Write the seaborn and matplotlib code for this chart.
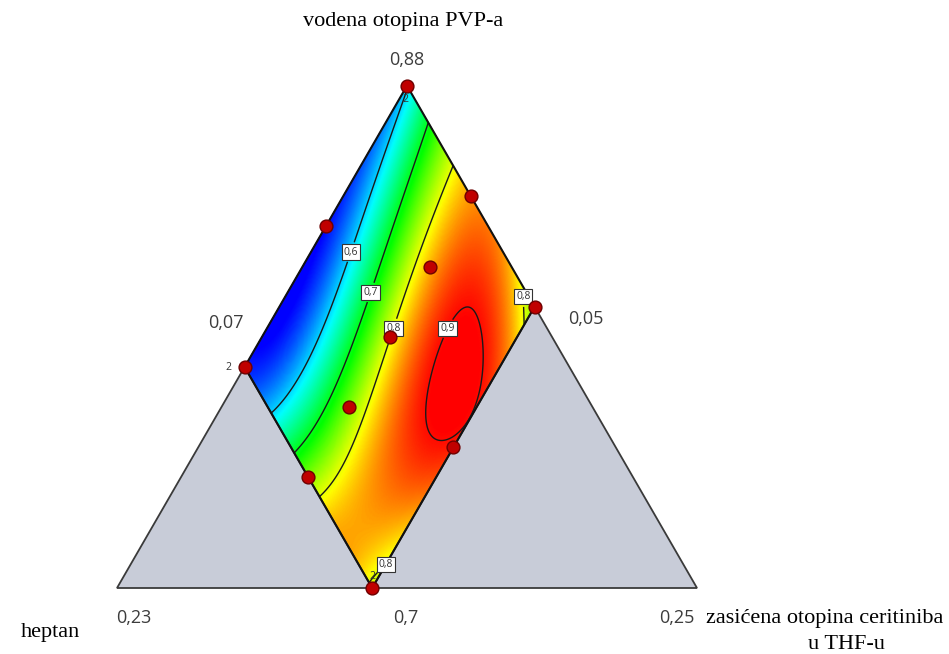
import numpy as np
import matplotlib
matplotlib.use("Agg")
import matplotlib.pyplot as plt
from matplotlib.colors import LinearSegmentedColormap, Normalize
import seaborn as sns

sns.set_theme(style="white")
plt.rcParams["font.family"] = ["Open Sans", "DejaVu Sans"]

SQ3 = np.sqrt(3) / 2
B_MAX, C_MAX = 0.56, 0.44   # upper bounds of heptan / THF (L-pseudo components)

# design points, s = heptan / B_MAX, t = THF / C_MAX
design_s = [0, 1, 0, 1, 0.5, 0, 1, 0.5, 0.5, 0.25, 0.75]
design_t = [0, 0, 1, 1, 0, 0.5, 0.5, 1, 0.5, 0.5, 0.5]

# response surface (estimated from the plot), polynomial in s, t
powers = [(i, j) for i in range(5) for j in range(5) if i + j <= 4]
coef = [0.5956, 0.6332, 0.0912, -0.8880, 0.3218,
        -0.1943, -0.3840, 2.1272, -0.7546,
        0.1398, -0.6407, -0.7190,
        -0.1735, 0.4665,
        0.1659]
levels = [0.6, 0.7, 0.8, 0.9]

# contour label spots (s, t)
lab_s = [0.476, 0.482, 0.478, 0.309, 0.022, 0.903]
lab_t = [0.142, 0.320, 0.487, 0.703, 0.927, 0.963]

vertex_labels = {"top": "0,88", "left": "0,07", "right": "0,05",
                 "bl": "0,23", "bottom": "0,7", "br": "0,25"}


def st_to_abc(s, t):
    b = B_MAX * np.asarray(s, float)
    c = C_MAX * np.asarray(t, float)
    return 1 - b - c, b, c


def to_xy(a, b, c):
    return c + a / 2, a * SQ3


def model(s, t):
    return sum(k * s ** i * t ** j for k, (i, j) in zip(coef, powers))


s, t = np.meshgrid(np.linspace(0, 1, 300), np.linspace(0, 1, 300))
Z = model(s, t)
X, Y = to_xy(*st_to_abc(s, t))

cmap = LinearSegmentedColormap.from_list("de", ["#0000ff", "#00ffff", "#00ff00", "#ffff00", "#ff0000"])
norm = Normalize(0.52, 0.905)

fig = plt.figure(figsize=(9.49, 6.54), dpi=100)
ax = fig.add_axes([0, 0, 1, 1])
ax.set_xlim(-117 / 580, 832 / 580)
ax.set_ylim(-66 / 580, 588 / 580)
ax.axis("off")

ax.pcolormesh(X, Y, Z, cmap=cmap, norm=norm, shading="gouraud", zorder=1)
cs = ax.contour(X, Y, Z, levels=levels, colors="#1a1a1a", linewidths=1.0, zorder=2)

T = to_xy(1, 0, 0)
BL = to_xy(0, 1, 0)
BR = to_xy(0, 0, 1)
L = to_xy(*st_to_abc(1, 0))
R = to_xy(*st_to_abc(0, 1))
Bv = to_xy(*st_to_abc(1, 1))

for tri in [(L, BL, Bv), (R, Bv, BR)]:
    xs, ys = zip(*tri)
    ax.fill(xs, ys, facecolor="#c8ccd8", edgecolor="#3a3a3a", lw=1.3, zorder=3)
xs, ys = zip(*[T, R, Bv, L, T])
ax.plot(xs, ys, color="#111111", lw=1.5, zorder=4)

lx, ly = to_xy(*st_to_abc(lab_s, lab_t))
texts = ax.clabel(cs, manual=list(zip(lx, ly)), inline=True, inline_spacing=3, fontsize=7.5,
                  fmt=lambda v: f"{v:.1f}".replace(".", ","))
for tx in texts:
    tx.set_rotation(0)
    tx.set_color("#333333")
    tx.set_bbox(dict(facecolor="white", edgecolor="#333333", lw=0.8, pad=1.5))
    tx.set_zorder(6)

dx, dy = to_xy(*st_to_abc(design_s, design_t))
sns.scatterplot(x=dx, y=dy, ax=ax, s=85, color="#c00000", edgecolor="#6e0000",
                linewidth=1.0, zorder=7, legend=False)

# replicate markers
for pt, off in [(T, (-1, -10)), (L, (-11.5, -0.5)), (Bv, (0, 8.5))]:
    ax.annotate("2", pt, xytext=off, textcoords="offset points", ha="center", va="center",
                fontsize=7.5, color="#333333", zorder=8)

num = dict(textcoords="offset points", ha="center", va="center", fontsize=13, color="#3c3c3c")
ax.annotate(vertex_labels["top"], T, xytext=(0, 18.7), **num)
ax.annotate(vertex_labels["left"], L, xytext=(-13.5, 32), **num)
ax.annotate(vertex_labels["right"], R, xytext=(36.7, -8.6), **num)
ax.annotate(vertex_labels["bl"], BL, xytext=(12.2, -21.6), **num)
ax.annotate(vertex_labels["bottom"], Bv, xytext=(23.8, -21.6), **num)
ax.annotate(vertex_labels["br"], BR, xytext=(-14.4, -21.6), **num)

ser = dict(textcoords="offset points", ha="center", va="center", fontsize=16,
           family="Liberation Serif", color="black")
ax.annotate("vodena otopina PVP-a", T, xytext=(-2.9, 46), **ser)
ax.annotate("heptan", BL, xytext=(-48.2, -31.7), **ser)
ax.annotate("zasićena otopina ceritiniba", BR, xytext=(92.2, -21.6), **ser)
ax.annotate("u THF-u", BR, xytext=(107.3, -41), **ser)

fig.savefig("out.png", dpi=100)
